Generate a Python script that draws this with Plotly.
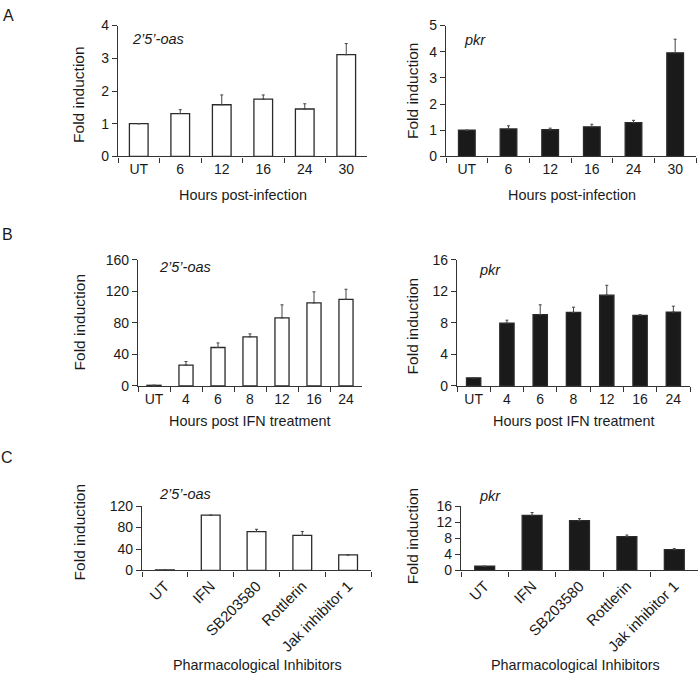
import plotly.graph_objects as go

W, H = 700, 682

# ---------------- data ----------------
hours_inf = ["UT", "6", "12", "16", "24", "30"]
oas_inf = [1.0, 1.31, 1.58, 1.75, 1.45, 3.11]
oas_inf_err = [0.0, 0.12, 0.30, 0.13, 0.16, 0.34]
pkr_inf = [1.0, 1.05, 1.02, 1.13, 1.29, 3.96]
pkr_inf_err = [0.0, 0.12, 0.06, 0.10, 0.09, 0.52]

hours_ifn = ["UT", "4", "6", "8", "12", "16", "24"]
oas_ifn = [0.8, 26.5, 48.8, 62.4, 86.4, 105.4, 110.0]
oas_ifn_err = [0.0, 4.5, 5.8, 3.7, 16.6, 14.1, 12.8]
pkr_ifn = [1.03, 7.98, 9.05, 9.34, 11.53, 8.97, 9.38]
pkr_ifn_err = [0.0, 0.37, 1.25, 0.66, 1.25, 0.08, 0.75]

inhibitors = ["UT", "IFN", "SB203580", "Rottlerin", "Jak inhibitor 1"]
oas_inh = [1.0, 102.9, 72.5, 65.2, 29.0]
oas_inh_err = [0.0, 0.0, 4.2, 7.3, 0.0]
pkr_inh = [1.05, 13.7, 12.36, 8.4, 5.17]
pkr_inh_err = [0.0, 0.7, 0.5, 0.4, 0.25]

# ---------------- style ----------------
FONT = "Liberation Sans, Arial, sans-serif"
AXC = "#333333"
TXT = "#1a1a1a"

fig = go.Figure()

panels = [
    ("", hours_inf, oas_inf, oas_inf_err, False, (118, 367), (18, 152), (0, 4), 1, 0.45, 0),
    ("2", hours_inf, pkr_inf, pkr_inf_err, True, (446, 696), (18, 152), (0, 5), 1, 0.40, 0),
    ("3", hours_ifn, oas_ifn, oas_ifn_err, False, (138, 362), (258, 387), (0, 160), 40, 0.44, 0),
    ("4", hours_ifn, pkr_ifn, pkr_ifn_err, True, (457, 690), (258, 387), (0, 16), 4, 0.43, 0),
    ("5", inhibitors, oas_inh, oas_inh_err, False, (142, 371), (510, 576), (0, 120), 40, 0.41, -45),
    ("6", inhibitors, pkr_inh, pkr_inh_err, True, (461, 698), (510, 576), (0, 16), 4, 0.42, -45),
]

for ax, cats, vals, errs, filled, xr, yr, yrange, dtick, bw, ang in panels:
    fig.add_trace(go.Bar(
        x=cats, y=vals,
        xaxis="x" + ax, yaxis="y" + ax,
        width=bw,
        marker=dict(color="#1a1a1a" if filled else "white",
                    line=dict(color="#2a2a2a", width=1.3)),
        error_y=dict(type="data", symmetric=False, array=errs,
                     arrayminus=[0] * len(errs), color="#444444",
                     thickness=1, width=1.5),
        showlegend=False,
    ))
    xd = [xr[0] / W, xr[1] / W]
    yd = [1 - yr[1] / H, 1 - yr[0] / H]
    fig.layout["xaxis" + ax] = dict(
        domain=xd, anchor="y" + ax, type="category",
        showline=True, linecolor=AXC, linewidth=1.2,
        ticks="outside", tickson="boundaries", ticklen=5, tickcolor=AXC,
        tickwidth=1.2, tickangle=ang,
        tickfont=dict(family=FONT, size=15 if ang else 14, color=TXT),
        showgrid=False, zeroline=False, fixedrange=True,
    )
    fig.layout["yaxis" + ax] = dict(
        domain=yd, anchor="x" + ax, range=list(yrange), dtick=dtick,
        showline=True, linecolor=AXC, linewidth=1.2,
        ticks="outside", ticklen=5, tickcolor=AXC, tickwidth=1.2,
        tickfont=dict(family=FONT, size=14, color=TXT),
        showgrid=False, zeroline=False, fixedrange=True,
    )

ann = []

def txt(x, y, s, size=14.4, angle=0, italic=False, xanchor="center"):
    ann.append(dict(
        x=x / W, y=1 - y / H, xref="paper", yref="paper", text=s,
        showarrow=False, textangle=angle, xanchor=xanchor, yanchor="middle",
        font=dict(family=FONT, size=size, color=TXT,
                  style="italic" if italic else "normal"),
    ))

# panel letters
txt(8, 8, "A", size=16)
txt(7, 232, "B", size=16)
txt(7, 460, "C", size=16)

# gene labels
txt(130, 32, "2’5’-oas", size=14.5, italic=True, xanchor="left")
txt(462, 33, "pkr", size=14.5, italic=True, xanchor="left")
txt(157, 265, "2’5’-oas", size=14.5, italic=True, xanchor="left")
txt(477, 268, "pkr", size=14.5, italic=True, xanchor="left")
txt(157, 498, "2’5’-oas", size=14.5, italic=True, xanchor="left")
txt(477, 500, "pkr", size=14.5, italic=True, xanchor="left")

# x-axis titles
txt(243, 191, "Hours post-infection")
txt(572, 191, "Hours post-infection")
txt(250, 423, "Hours post IFN treatment")
txt(574, 423, "Hours post IFN treatment")
txt(257, 673, "Pharmacological Inhibitors")
txt(575, 673, "Pharmacological Inhibitors")

# y-axis titles
for (x, y) in [(79, 89), (412, 84), (79, 322), (412, 325), (79, 537), (412, 540)]:
    txt(x, y, "Fold induction", size=15.5, angle=-90)

fig.update_layout(
    width=W, height=H,
    margin=dict(l=0, r=0, t=0, b=0),
    paper_bgcolor="white", plot_bgcolor="white",
    annotations=ann,
)

fig.write_html("out.html", config={"displayModeBar": False},
               post_script="document.body.style.margin='0';")
